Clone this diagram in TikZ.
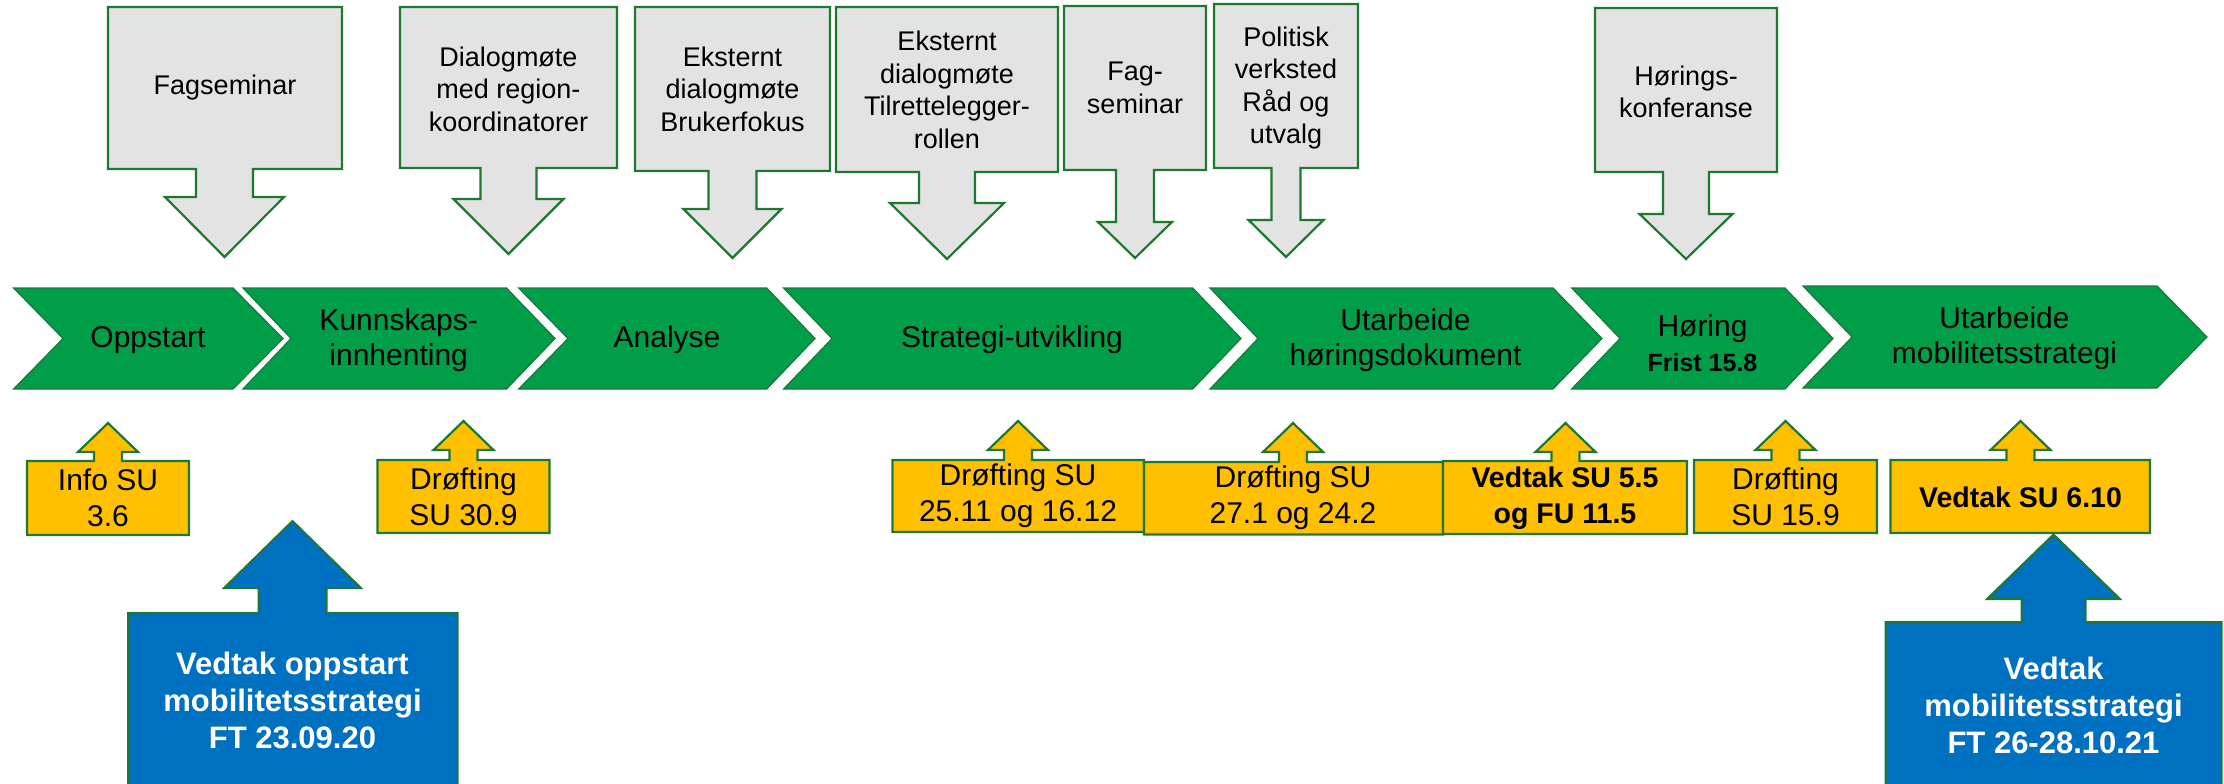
\documentclass[tikz,border=0pt]{standalone}
\usepackage{fontspec}
\setmainfont{Liberation Sans}
\usepackage{xcolor}
\usepackage{tikz}

\definecolor{chevgreen}{RGB}{0,158,73}
\definecolor{chevedge}{RGB}{22,122,58}
\definecolor{edgegreen}{RGB}{30,120,50}
\definecolor{eventgray}{RGB}{226,227,226}
\definecolor{meetyellow}{RGB}{255,192,0}
\definecolor{decblue}{RGB}{0,112,192}

\begin{document}
\begin{tikzpicture}[x=1pt,y=-1pt,
    chev/.style={fill=chevgreen,draw=chevedge,line width=1.2},
    phase/.style={font=\fontsize{30}{35}\selectfont,align=center,inner sep=0},
    event/.style={fill=eventgray,draw=edgegreen,line width=2.2},
    eventtxt/.style={font=\fontsize{27}{32.5}\selectfont,align=center,inner sep=0},
    meet/.style={fill=meetyellow,draw=edgegreen,line width=2.2},
    meettxt/.style={font=\fontsize{30}{36}\selectfont,align=center,inner sep=0},
    meetbold/.style={meettxt,font=\bfseries\fontsize{28.5}{36}\selectfont},
    decision/.style={fill=decblue,draw=edgegreen,line width=2},
    dectxt/.style={font=\bfseries\fontsize{31}{37}\selectfont,align=center,text=white,inner sep=0}]
  \clip (0,0) rectangle (2224,784);

  % events above the timeline
  \draw[event] (108,7) -- (342,7) -- (342,169) -- (253,169) -- (253,197) -- (284,197) -- (224.5,257) -- (165,197) -- (196,197) -- (196,169) -- (108,169) -- cycle;
  \draw[event] (400,7) -- (617,7) -- (617,168) -- (536.5,168) -- (536.5,199) -- (563.5,199) -- (508.5,254) -- (453.5,199) -- (480.5,199) -- (480.5,168) -- (400,168) -- cycle;
  \draw[event] (635,7) -- (830,7) -- (830,171) -- (756.5,171) -- (756.5,209) -- (781.5,209) -- (732.5,258) -- (683.5,209) -- (708.5,209) -- (708.5,171) -- (635,171) -- cycle;
  \draw[event] (836,7) -- (1058,7) -- (1058,172) -- (975,172) -- (975,203) -- (1004,203) -- (947,259) -- (890,203) -- (919,203) -- (919,172) -- (836,172) -- cycle;
  \draw[event] (1064,6) -- (1206,6) -- (1206,170) -- (1154,170) -- (1154,222) -- (1172,222) -- (1135,258) -- (1098,222) -- (1116,222) -- (1116,170) -- (1064,170) -- cycle;
  \draw[event] (1214,4) -- (1358,4) -- (1358,168) -- (1300.5,168) -- (1300.5,220) -- (1323.5,220) -- (1286,257) -- (1248.5,220) -- (1271.5,220) -- (1271.5,168) -- (1214,168) -- cycle;
  \draw[event] (1595,8) -- (1777,8) -- (1777,172) -- (1709,172) -- (1709,214) -- (1732.5,214) -- (1686,259) -- (1639.5,214) -- (1663,214) -- (1663,172) -- (1595,172) -- cycle;
  \node[eventtxt] (fagsem) at (225,88) {Fagseminar};
  \node[eventtxt] (dialogreg) at (508.5,89) {Dialogmøte\\med region-\\koordinatorer};
  \node[eventtxt] (brukerfok) at (732.5,89) {Eksternt\\dialogmøte\\Brukerfokus};
  \node[eventtxt] (tilrett) at (947,90) {Eksternt\\dialogmøte\\Tilrettelegger-\\rollen};
  \node[eventtxt] (fagsemto) at (1135,88) {Fag-\\seminar};
  \node[eventtxt] (politisk) at (1286,88) {Politisk\\verksted\\Råd og\\utvalg};
  \node[eventtxt] (hoerkonf) at (1686,92) {Hørings-\\konferanse};

  % phases
  \draw[chev] (13.6,288) -- (233,288) -- (283,338.5) -- (233,389) -- (13.6,389) -- (63,338.5) -- cycle;
  \draw[chev] (243,288) -- (506.5,288) -- (555,338.5) -- (506.5,389) -- (243,389) -- (291,338.5) -- cycle;
  \draw[chev] (518.7,288) -- (766.7,288) -- (815,338.5) -- (766.7,389) -- (518.7,389) -- (568,338.5) -- cycle;
  \draw[chev] (783.6,288) -- (1192.7,288) -- (1241,338.5) -- (1192.7,389) -- (783.6,389) -- (832,338.5) -- cycle;
  \draw[chev] (1210,288) -- (1553,288) -- (1602,338.5) -- (1553,389) -- (1210,389) -- (1258,338.5) -- cycle;
  \draw[chev] (1571.7,288) -- (1785,288) -- (1833,338.5) -- (1785,389) -- (1571.7,389) -- (1620,338.5) -- cycle;
  \draw[chev] (1803,286) -- (2157,286) -- (2207,337) -- (2157,388) -- (1803,388) -- (1852,337) -- cycle;
  \node[phase] (oppstart) at (148,340) {Oppstart};
  \node[phase] (kunnskap) at (398.7,340) {Kunnskaps-\\innhenting};
  \node[phase] (analyse) at (667,340) {Analyse};
  \node[phase] (strategi) at (1012,340) {Strategi-utvikling};
  \node[phase] (utarbhoer) at (1405.5,340) {Utarbeide\\høringsdokument};
  \node[phase] (hoering) at (1702.5,343) {Høring\\{\bfseries\fontsize{25}{30}\selectfont Frist 15.8}};
  \node[phase] (utarbmob) at (2004.5,338) {Utarbeide\\mobilitetsstrategi};

  % meetings below the timeline
  \draw[meet] (27,461) -- (94,461) -- (94,452) -- (78,452) -- (108,423) -- (138,452) -- (122,452) -- (122,461) -- (189,461) -- (189,535) -- (27,535) -- cycle;
  \draw[meet] (377.5,460) -- (449.5,460) -- (449.5,450) -- (433.5,450) -- (463.5,421) -- (493.5,450) -- (477.5,450) -- (477.5,460) -- (549.5,460) -- (549.5,533) -- (377.5,533) -- cycle;
  \draw[meet] (892.5,460) -- (1004,460) -- (1004,450) -- (988,450) -- (1018,421) -- (1048,450) -- (1032,450) -- (1032,460) -- (1144,460) -- (1144,532) -- (892.5,532) -- cycle;
  \draw[meet] (1144,462) -- (1279,462) -- (1279,452) -- (1263,452) -- (1293,423) -- (1323,452) -- (1307,452) -- (1307,462) -- (1443,462) -- (1443,534.5) -- (1144,534.5) -- cycle;
  \draw[meet] (1443,461) -- (1551.5,461) -- (1551.5,452) -- (1535.5,452) -- (1565.5,423) -- (1595.5,452) -- (1579.5,452) -- (1579.5,461) -- (1687,461) -- (1687,534) -- (1443,534) -- cycle;
  \draw[meet] (1694,460) -- (1771.5,460) -- (1771.5,450) -- (1755.5,450) -- (1785.5,421) -- (1815.5,450) -- (1799.5,450) -- (1799.5,460) -- (1877,460) -- (1877,533) -- (1694,533) -- cycle;
  \draw[meet] (1890.5,460) -- (2006.5,460) -- (2006.5,450) -- (1990.5,450) -- (2020.5,421) -- (2050.5,450) -- (2034.5,450) -- (2034.5,460) -- (2150,460) -- (2150,533) -- (1890.5,533) -- cycle;
  \node[meettxt] (infosu) at (108,498) {Info SU\\3.6};
  \node[meettxt] (droftsept) at (463.5,497) {Drøfting\\SU 30.9};
  \node[meettxt] (droftdes) at (1018,496) {Drøfting SU\\25.11 og 16.12};
  \node[meettxt] (droftfeb) at (1293,498) {Drøfting SU\\27.1 og 24.2};
  \node[meetbold] (vedtakmai) at (1565,498) {Vedtak SU 5.5\\og FU 11.5};
  \node[meettxt] (droftsep) at (1785.5,497) {Drøfting\\SU 15.9};
  \node[meetbold] (vedtakokt) at (2020.5,497) {Vedtak SU 6.10};

  % decisions in the county council
  \draw[decision] (128,613) -- (258.5,613) -- (258.5,588) -- (224,588) -- (292.5,521) -- (361,588) -- (326.5,588) -- (326.5,613) -- (457.5,613) -- (457.5,800) -- (128,800) -- cycle;
  \draw[decision] (1885.5,622) -- (2021.5,622) -- (2021.5,599) -- (1987,599) -- (2053.5,534.5) -- (2120,599) -- (2085.5,599) -- (2085.5,622) -- (2221.5,622) -- (2221.5,800) -- (1885.5,800) -- cycle;
  \node[dectxt] (ftstart) at (292.5,700) {Vedtak oppstart\\mobilitetsstrategi\\FT 23.09.20};
  \node[dectxt] (ftvedtak) at (2053.5,705) {Vedtak\\mobilitetsstrategi\\FT 26-28.10.21};
\end{tikzpicture}
\end{document}
